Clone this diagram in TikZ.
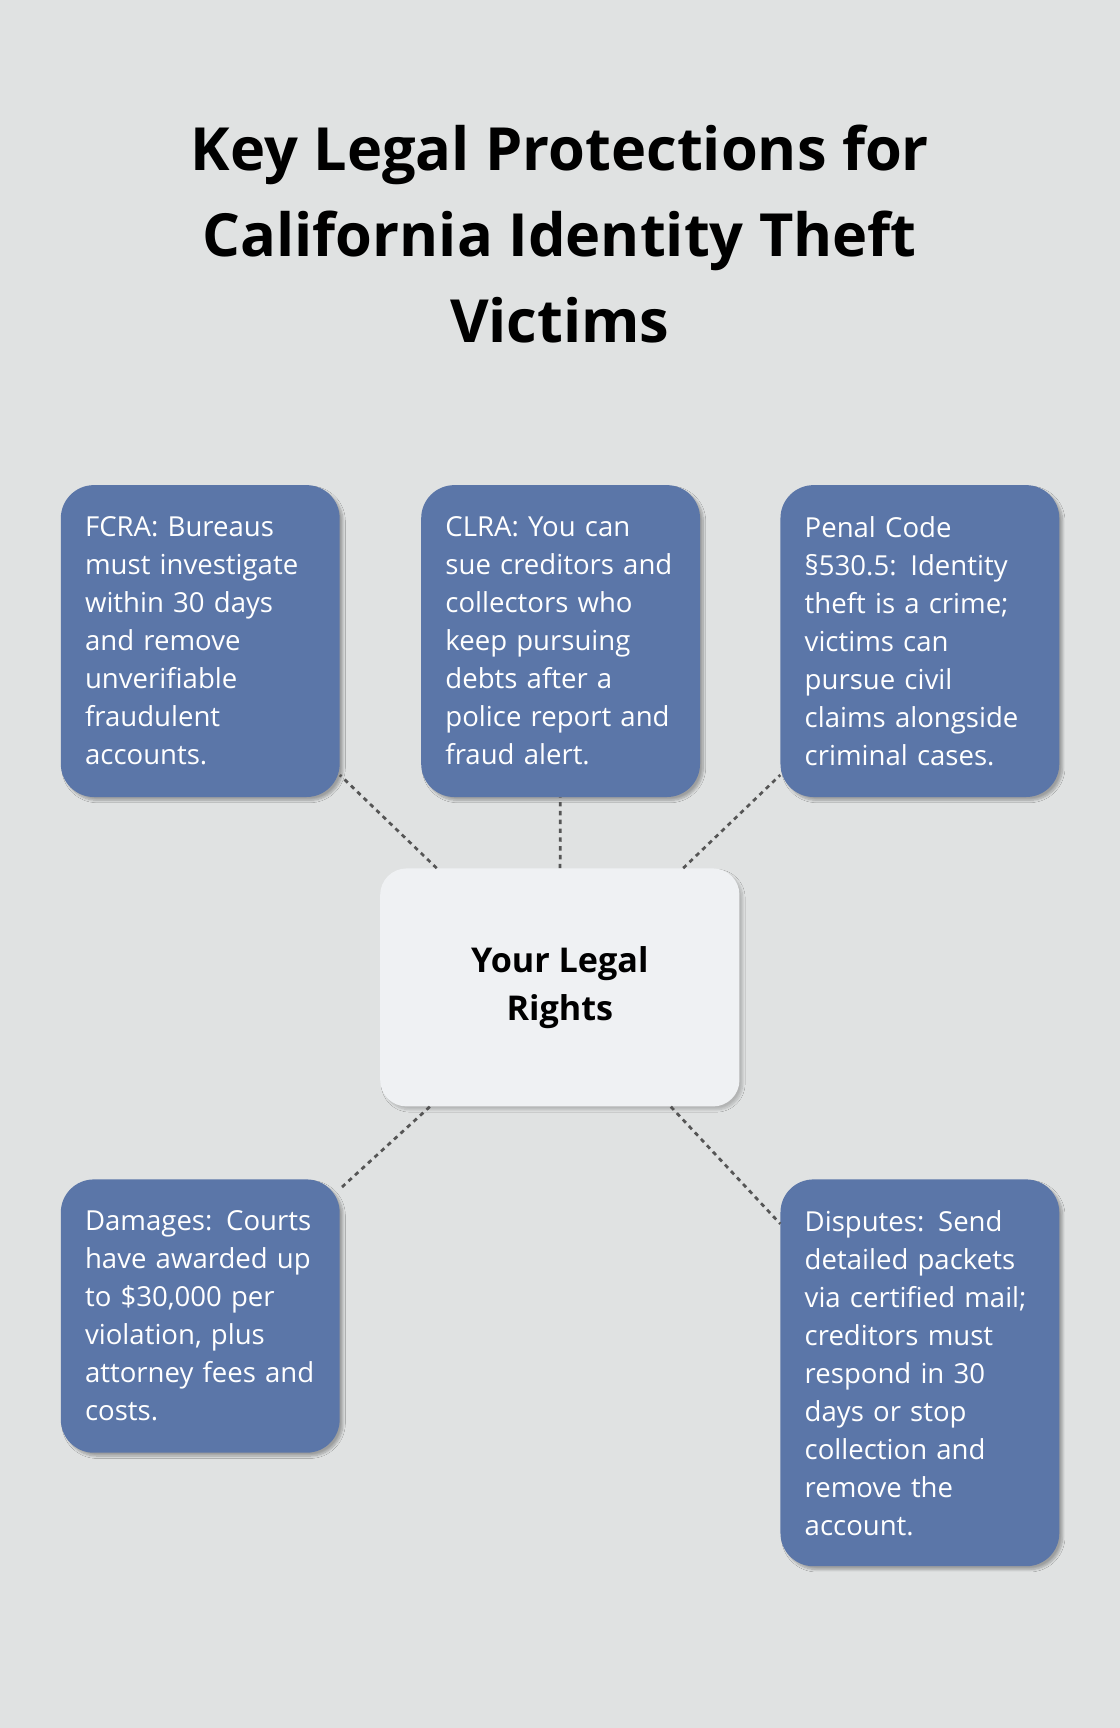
\documentclass[tikz,border=0pt]{standalone}
\usepackage{fontspec}
\setmainfont{Open Sans}
\usetikzlibrary{shadows.blur}
\definecolor{bg}{HTML}{E0E2E2}
\definecolor{boxc}{HTML}{5B76A8}
\definecolor{cent}{HTML}{EFF1F3}
\definecolor{conn}{HTML}{555555}
\begin{document}
\begin{tikzpicture}[x=1pt,y=-1pt,
  box/.style={fill=boxc,rounded corners=30pt,text=white,align=left,anchor=north west,
    inner xsep=22pt,inner ysep=0pt,font=\fontsize{25}{34.5}\selectfont,
    blur shadow={shadow blur steps=8,shadow xshift=3pt,shadow yshift=-3pt,shadow opacity=30}},
  conn/.style={draw=conn,line width=2.5pt,dash pattern=on 4pt off 4pt}]
\fill[bg] (0,0) rectangle (1016,1568);
\useasboundingbox (0,0) rectangle (1016,1568);
\node (title) at (508,212) [align=center,font=\fontsize{54}{78}\selectfont\bfseries] {Key Legal Protections for\\California Identity Theft\\Victims};
\node[box,text width=209pt,minimum height=283pt] (a) at (55,440) {FCRA: Bureaus\\must investigate\\within 30 days\\and remove\\unverifiable\\fraudulent\\accounts.};
\node[box,text width=209pt,minimum height=283pt] (b) at (382,440) {CLRA: You can\\sue creditors and\\collectors who\\keep pursuing\\debts after a\\police report and\\fraud alert.};
\node[box,text width=209pt,minimum height=283pt] (c) at (708,440) {Penal Code\\§530.5: Identity\\theft is a crime;\\victims can\\pursue civil\\claims alongside\\criminal cases.};
\node[box,text width=209pt,minimum height=248pt] (d) at (55,1070) {Damages: Courts\\have awarded up\\to \$30,000 per\\violation, plus\\attorney fees and\\costs.};
\node[box,text width=209pt,minimum height=351pt] (e) at (708,1070) {Disputes: Send\\detailed packets\\via certified mail;\\creditors must\\respond in 30\\days or stop\\collection and\\remove the\\account.};
\node[fill=cent,rounded corners=24pt,minimum width=326pt,minimum height=216pt,align=center,
  font=\fontsize{31}{44}\selectfont\bfseries,
  blur shadow={shadow blur steps=8,shadow xshift=3pt,shadow yshift=-3pt,shadow opacity=20}] (m) at (508,896) {Your Legal\\Rights};
\draw[conn] (m) -- (a);
\draw[conn] (m) -- (b);
\draw[conn] (m) -- (c);
\draw[conn] (m) -- (d);
\draw[conn] (m) -- (e);
\end{tikzpicture}
\end{document}
